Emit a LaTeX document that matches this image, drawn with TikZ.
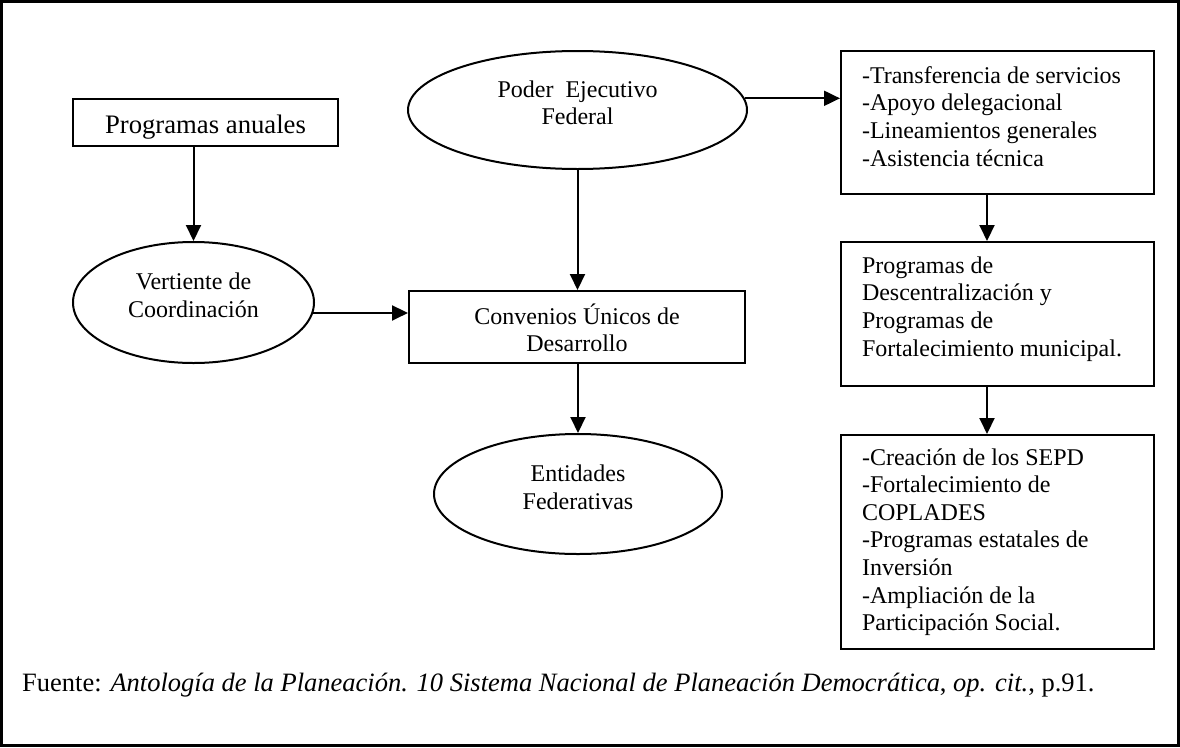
\documentclass[tikz,border=0pt]{standalone}
\usepackage{fontspec}
\setmainfont{Liberation Serif}
\usetikzlibrary{shapes.geometric,arrows.meta,calc}
\tikzset{
  txt/.style={font=\fontsize{24}{27.6}\selectfont, inner sep=0pt, outer sep=0pt},
  boxshape/.style={draw, line width=2pt, rectangle, inner sep=0pt},
  ellshape/.style={draw, line width=2pt, ellipse, inner sep=0pt},
  arr/.style={line width=2pt, -{Triangle[length=16pt,width=15pt]}},
  frame/.style={draw, line width=2.2pt}
}
\begin{document}
\begin{tikzpicture}[x=1pt,y=-1pt]
\useasboundingbox (0,0) rectangle (1180,747);
\draw[frame] (1.5,1.5) rectangle (1178.5,745.5);

% shapes
\node[boxshape, minimum width=265pt, minimum height=47pt] (prog) at (205.5,122.5) {};
\node[ellshape, minimum width=339pt, minimum height=118pt] (poder) at (577.5,110) {};
\node[ellshape, minimum width=241pt, minimum height=121pt] (vert) at (193.5,302.5) {};
\node[boxshape, minimum width=336pt, minimum height=72pt] (conv) at (577,327) {};
\node[ellshape, minimum width=288pt, minimum height=120pt] (ent) at (578,494) {};
\node[boxshape, minimum width=313pt, minimum height=143pt] (b1) at (997.5,122.5) {};
\node[boxshape, minimum width=313pt, minimum height=144pt] (b2) at (997.5,314) {};
\node[boxshape, minimum width=313pt, minimum height=214pt] (b3) at (997.5,542) {};

% texts
\node[inner sep=0pt, font=\fontsize{26.7}{30}\selectfont, anchor=base] (progt) at (205.5,133.3) {Programas anuales};
\node[txt, align=center, anchor=north] (podert) at (577.5,78) {\strut Poder~~Ejecutivo\\Federal};
\node[txt, align=center, anchor=north] (vertt) at (193.5,270.4) {\strut Vertiente de\\Coordinación};
\node[txt, align=center, anchor=north] (convt) at (577,303.4) {\strut Convenios Únicos de\\Desarrollo};
\node[txt, align=center, anchor=north] (entt) at (578,462.4) {\strut Entidades\\Federativas};
\node[txt, align=left, anchor=north west] (b1t) at (862,64) {\strut -Transferencia de servicios\\-Apoyo delegacional\\-Lineamientos generales\\-Asistencia técnica};
\node[txt, align=left, anchor=north west] (b2t) at (862,254) {\strut Programas de\\Descentralización y\\Programas de\\Fortalecimiento municipal.};
\node[txt, align=left, anchor=north west] (b3t) at (862,445.7) {\strut -Creación de los SEPD\\-Fortalecimiento de\\COPLADES\\-Programas estatales de\\Inversión\\-Ampliación de la\\Participación Social.};
\node[inner sep=0pt, font=\fontsize{26.5}{30}\selectfont, anchor=base west] (fuente) at (22,691.7) {Fuente: \textit{Antología de la Planeación. 10 Sistema Nacional de Planeación Democrática}, \textit{op. cit.}, p.91.};

% connectors
\draw[arr] (vert.north |- prog.south) -- (vert.north);
\draw[arr] (poder.south) -- (conv.north -| poder.south);
\draw[arr] (poder.4) -- (poder.4 -| b1.west);
\draw[arr] (vert.-5.5) -- (vert.-5.5 -| conv.west);
\draw[arr] (conv.south -| ent.north) -- (ent.north);
\draw[arr] ([xshift=-10.5pt]b1.south) -- ([xshift=-10.5pt]b2.north);
\draw[arr] ([xshift=-10.5pt]b2.south) -- ([xshift=-10.5pt]b3.north);
\end{tikzpicture}
\end{document}
